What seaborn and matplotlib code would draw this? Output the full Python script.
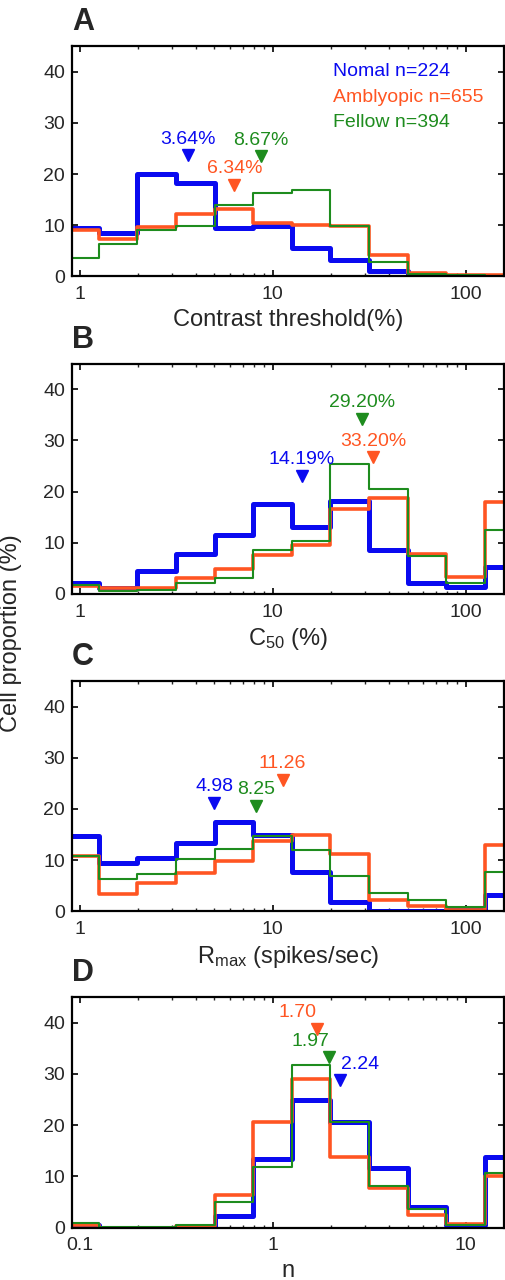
import numpy as np
import matplotlib
matplotlib.use("Agg")
import matplotlib.pyplot as plt
import seaborn as sns
from matplotlib.ticker import FixedLocator, LogLocator, NullFormatter

# bin centres, 0.2 decade wide log bins
centers_pct = [1, 1.58, 2.51, 3.98, 6.31, 10, 15.8, 25.1, 39.8, 63.1, 100, 158]
centers_n = [0.1, 0.158, 0.251, 0.398, 0.631, 1, 1.58, 2.51, 3.98, 6.31, 10, 15.8]

groups = ["Nomal", "Amblyopic", "Fellow"]
group_n = [224, 655, 394]

# A: contrast threshold (% of cells)
thr_normal = [9.4, 8.5, 20.1, 18.3, 9.4, 9.9, 5.5, 3.2, 1.0, 0.0, 0.0, 0.0]
thr_amblyopic = [9.1, 7.4, 9.6, 12.3, 13.2, 10.5, 10.0, 9.9, 4.2, 0.6, 0.3, 0.2]
thr_fellow = [3.6, 6.4, 9.0, 9.9, 14.0, 16.3, 16.8, 9.8, 2.9, 0.4, 0.3, 0.1]
thr_medians = [3.64, 6.34, 8.67]
thr_labels = ["3.64%", "6.34%", "8.67%"]

# B: C50
c50_normal = [2.2, 1.1, 4.4, 7.7, 11.6, 17.5, 13.0, 18.2, 8.6, 2.2, 1.4, 5.3]
c50_amblyopic = [1.6, 1.1, 1.2, 3.1, 4.8, 7.6, 9.6, 16.6, 18.7, 7.7, 3.4, 18.0]
c50_fellow = [1.7, 0.5, 0.8, 2.1, 3.1, 8.5, 10.3, 25.4, 20.5, 7.4, 2.1, 12.5]
c50_medians = [14.19, 33.20, 29.20]
c50_labels = ["14.19%", "33.20%", "29.20%"]

# C: Rmax
rmax_normal = [14.8, 9.4, 10.4, 13.4, 17.4, 15.0, 7.6, 1.8, 0.0, 0.0, 0.2, 3.2]
rmax_amblyopic = [10.8, 3.4, 5.6, 7.5, 9.8, 13.7, 14.9, 11.2, 2.3, 1.1, 0.3, 13.0]
rmax_fellow = [10.8, 6.4, 7.3, 10.2, 12.1, 14.7, 11.9, 7.0, 3.5, 2.3, 0.8, 7.6]
rmax_medians = [4.98, 11.26, 8.25]
rmax_labels = ["4.98", "11.26", "8.25"]

# D: exponent n
n_normal = [0.5, 0.0, 0.0, 0.0, 2.2, 13.3, 25.0, 20.6, 11.6, 4.0, 0.4, 13.7]
n_amblyopic = [0.5, 0.0, 0.0, 0.2, 6.4, 20.6, 29.0, 13.8, 7.7, 2.4, 0.7, 10.1]
n_fellow = [0.9, 0.1, 0.1, 0.5, 4.9, 11.9, 31.8, 20.7, 8.1, 3.7, 0.4, 10.6]
n_medians = [2.24, 1.70, 1.97]
n_labels = ["2.24", "1.70", "1.97"]

# layout of the median markers (height of triangle, label offset in points)
thr_marker_y = [23.7, 17.9, 23.5]
c50_marker_y = [23.1, 26.7, 34.2]
rmax_marker_y = [21.2, 25.7, 20.6]
n_marker_y = [28.8, 38.8, 33.3]
n_label_dx = [14, -14, -14]

colors = ["#0a0af0", "#ff5522", "#1e8c1e"]
widths = [3.6, 2.6, 1.5]

sns.set_style("ticks")
plt.rcParams["font.family"] = ["Liberation Sans", "DejaVu Sans"]
plt.rcParams["mathtext.fontset"] = "custom"
plt.rcParams["mathtext.rm"] = "Liberation Sans"
plt.rcParams["mathtext.it"] = "Liberation Sans:italic"

fig = plt.figure(figsize=(5.06, 12.8), dpi=100)

panels = [
    ("A", centers_pct, [thr_normal, thr_amblyopic, thr_fellow], thr_medians,
     thr_labels, thr_marker_y, [0, 0, 0], "Contrast threshold(%)", [1, 10, 100], 0.784),
    ("B", centers_pct, [c50_normal, c50_amblyopic, c50_fellow], c50_medians,
     c50_labels, c50_marker_y, [0, 0, 0], r"C$_{\mathrm{50}}$ (%)", [1, 10, 100], 0.536),
    ("C", centers_pct, [rmax_normal, rmax_amblyopic, rmax_fellow], rmax_medians,
     rmax_labels, rmax_marker_y, [0, 0, 0], r"R$_{\mathrm{max}}$ (spikes/sec)", [1, 10, 100], 0.288),
    ("D", centers_n, [n_normal, n_amblyopic, n_fellow], n_medians,
     n_labels, n_marker_y, n_label_dx, "n", [0.1, 1, 10], 0.041),
]

for letter, centers, series, medians, labels, marker_y, label_dx, xlabel, majors, bottom in panels:
    ax = fig.add_axes([0.142, bottom, 0.854, 0.180])
    logc = np.log10(centers)
    lo, hi = logc[0] - 0.1, logc[-1] + 0.1
    for vals, c, lw in zip(series, colors, widths):
        sns.histplot(x=centers, weights=vals, bins=len(centers), binrange=(lo, hi),
                     log_scale=True, element="step", fill=False, color=c,
                     linewidth=lw, ax=ax)
    for m, y, lab, c, dx in zip(medians, marker_y, labels, colors, label_dx):
        ax.plot(m, y, marker="v", ms=9, color=c, linestyle="none")
        ax.annotate(lab, (m, y), xytext=(dx, 11.5), textcoords="offset points",
                    ha="center", va="center", color=c, fontsize=14)

    ax.set_xscale("log")
    ax.set_xlim(10 ** (lo + 0.06), 10 ** (hi - 0.1))
    ax.set_ylim(0, 45)
    ax.set_yticks([0, 10, 20, 30, 40])
    ax.xaxis.set_major_locator(FixedLocator(majors))
    ax.set_xticklabels([("%g" % t) for t in majors])
    ax.xaxis.set_minor_locator(LogLocator(base=10, subs=np.arange(2, 10)))
    ax.xaxis.set_minor_formatter(NullFormatter())
    ax.tick_params(direction="in", top=True, right=True, labelsize=14,
                   width=1.4, length=4, pad=5)
    ax.tick_params(axis="x", pad=7)
    ax.tick_params(which="minor", direction="in", top=True, length=2.5, width=1.0)
    for s in ax.spines.values():
        s.set_linewidth(1.6)
        s.set_color("black")
    ax.set_xlabel(xlabel, fontsize=17, labelpad=4)
    ax.set_ylabel("")
    ax.annotate(letter, xy=(0, 1), xycoords="axes fraction", xytext=(0, 11.5),
                textcoords="offset points", ha="left", va="baseline",
                fontsize=22, fontweight="bold")

    if letter == "A":
        for i, (g, n, c) in enumerate(zip(groups, group_n, colors)):
            ax.text(20.5, 40 - 5 * i, f"{g} n={n}", color=c, fontsize=14,
                    ha="left", va="center")

fig.text(0.022, 0.505, "Cell proportion (%)", rotation=90, fontsize=17,
         ha="center", va="center")

fig.savefig("out.png", dpi=100)
